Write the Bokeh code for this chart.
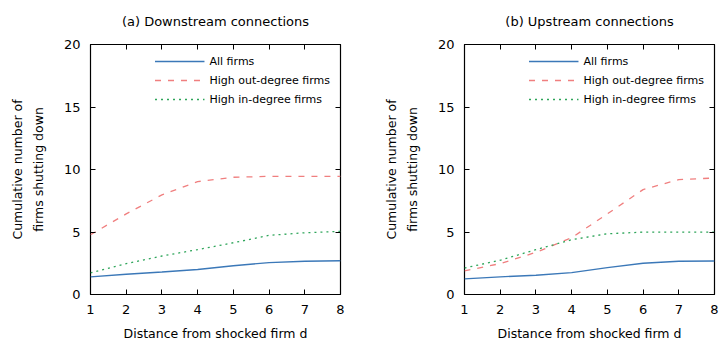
from bokeh.plotting import figure
from bokeh.layouts import row
from bokeh.models import LinearAxis, Range1d, Legend, LegendItem, FixedTicker
from bokeh.embed import file_html
from bokeh.resources import INLINE

distance = [1, 2, 3, 4, 5, 6, 7, 8]

down_all = [1.41, 1.62, 1.8, 2.0, 2.3, 2.55, 2.66, 2.7]
down_out = [4.78, 6.45, 7.97, 9.03, 9.38, 9.45, 9.45, 9.45]
down_in = [1.73, 2.47, 3.08, 3.59, 4.14, 4.73, 4.94, 5.05]

up_all = [1.25, 1.41, 1.54, 1.75, 2.15, 2.5, 2.66, 2.68]
up_out = [1.89, 2.47, 3.37, 4.54, 6.45, 8.39, 9.19, 9.32]
up_in = [2.12, 2.74, 3.59, 4.38, 4.86, 4.99, 4.99, 4.99]

titles = ["(a) Downstream connections", "(b) Upstream connections"]
series_names = ["All firms", "High out-degree firms", "High in-degree firms"]
x_ticks = [1, 2, 3, 4, 5, 6, 7, 8]
y_ticks = [0, 5, 10, 15, 20]

FONT = "DejaVu Sans"
colors = ["#3b78b8", "#f07f7f", "#2ea55a"]
dashes = ["solid", "6 7", "2 4"]


def make(title, ys, width, left, right):
    p = figure(width=width, height=345, output_backend="svg", toolbar_location=None,
               x_range=Range1d(1, 8), y_range=Range1d(0, 20),
               min_border_left=left, min_border_right=right,
               min_border_top=43, min_border_bottom=51)
    p.title.text = title
    p.title.align = "center"
    p.title.vertical_align = "top"
    p.title.text_font = FONT
    p.title.text_font_size = "13px"
    p.title.text_font_style = "normal"
    p.title.text_color = "black"
    p.title.offset = 0
    p.title.standoff = 27
    p.grid.visible = False
    p.outline_line_color = "black"
    p.outline_line_width = 1.2
    p.background_fill_color = "white"

    p.xaxis.ticker = FixedTicker(ticks=x_ticks)
    p.yaxis.ticker = FixedTicker(ticks=y_ticks)
    p.xaxis.axis_label = "Distance from shocked firm d"
    p.yaxis.axis_label = "Cumulative number of\nfirms shutting down"
    for ax in [p.xaxis[0], p.yaxis[0]]:
        ax.axis_line_color = None
        ax.major_tick_in = 5
        ax.major_tick_out = 0
        ax.minor_tick_line_color = None
        ax.major_label_text_font = FONT
        ax.major_label_text_font_size = "13px"
        ax.major_label_text_color = "black"
        ax.axis_label_text_font = FONT
        ax.axis_label_text_font_size = "12.5px"
        ax.axis_label_text_font_style = "normal"
        ax.axis_label_text_color = "black"
    p.yaxis.axis_label_text_line_height = 1.4
    p.xaxis.major_label_standoff = 10
    p.xaxis.axis_label_standoff = 9
    p.yaxis.major_label_standoff = 10
    p.yaxis.axis_label_standoff = 15

    ax_top = LinearAxis(ticker=FixedTicker(ticks=x_ticks),
                        major_label_overrides={t: "" for t in x_ticks},
                        major_tick_in=5, major_tick_out=0, axis_line_color=None,
                        minor_tick_line_color=None, major_label_standoff=0)
    ax_right = LinearAxis(ticker=FixedTicker(ticks=y_ticks),
                          major_label_overrides={t: "" for t in y_ticks},
                          major_tick_in=5, major_tick_out=0, axis_line_color=None,
                          minor_tick_line_color=None, major_label_standoff=0)
    p.add_layout(ax_top, "above")
    p.add_layout(ax_right, "right")

    items = []
    for name, y, c, d in zip(series_names, ys, colors, dashes):
        r = p.line(distance, y, line_color=c, line_width=1.3, line_dash=d)
        items.append(LegendItem(label=name, renderers=[r]))
    leg = Legend(items=items, location="top_right")
    leg.border_line_color = None
    leg.background_fill_alpha = 0
    leg.label_text_font = FONT
    leg.label_text_font_size = "11px"
    leg.label_text_color = "black"
    leg.label_height = 14
    leg.glyph_height = 14
    leg.spacing = 5
    leg.glyph_width = 50
    leg.margin = 10
    leg.padding = 4
    p.add_layout(leg)
    return p


p1 = make(titles[0], [down_all, down_out, down_in], 360, 90, 20)
p2 = make(titles[1], [up_all, up_out, up_in], 360, 104, 6)
layout = row(p1, p2)

open("out.html", "w").write(file_html(layout, INLINE))
